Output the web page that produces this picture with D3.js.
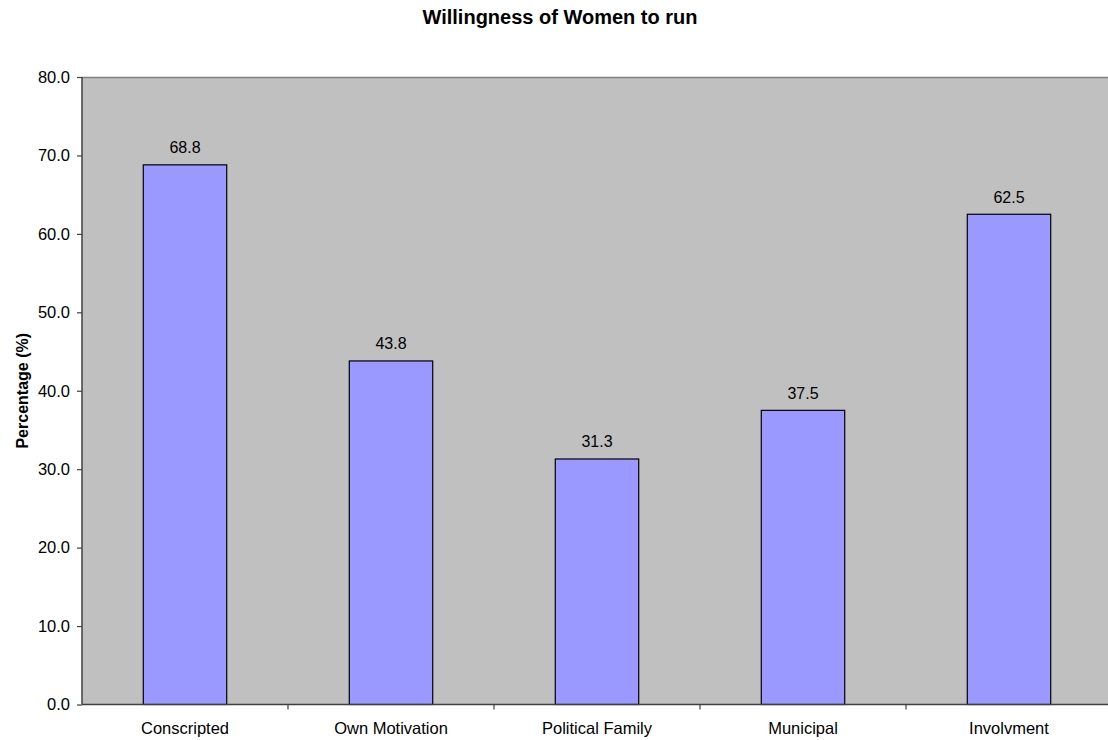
<!DOCTYPE html>
<html lang="en">
<head>
<meta charset="UTF-8">
<title>Willingness of Women to run</title>
<script src="https://d3js.org/d3.v7.min.js"></script>
<style>
  body { margin: 0; background: #fff; }
  svg { font-family: "Liberation Sans", Arial, sans-serif; display: block; }
</style>
</head>
<body>
<div id="chart"></div>
<script>
const categories = ["Conscripted", "Own Motivation", "Political Family", "Municipal", "Involvment"];
const values = [68.8, 43.8, 31.3, 37.5, 62.5];
const yTicks = [0, 10, 20, 30, 40, 50, 60, 70, 80];

const width = 1108, height = 740;
const margin = { left: 82, top: 77, right: -4, bottom: 35.5 };
const plotW = width - margin.left - margin.right;
const plotH = height - margin.top - margin.bottom;

const svg = d3.select("#chart").append("svg")
    .attr("width", width)
    .attr("height", height);

const x = d3.scaleBand().domain(categories).range([0, plotW]).paddingInner(0.595).paddingOuter(0.2975);
const xTicks = d3.scaleBand().domain(categories).range([0, plotW]);
const y = d3.scaleLinear().domain([0, 80]).range([plotH, 0]);

const g = svg.append("g").attr("transform", `translate(${margin.left},${margin.top})`);

// plot background
g.append("rect")
    .attr("width", plotW).attr("height", plotH)
    .attr("fill", "#c0c0c0");
g.append("line")
    .attr("x1", 0).attr("x2", plotW).attr("y1", 0.5).attr("y2", 0.5)
    .attr("stroke", "#808080").attr("stroke-width", 1.5);

// bars
g.selectAll("rect.bar")
    .data(values)
    .join("rect")
    .attr("class", "bar")
    .attr("x", (d, i) => x(categories[i]))
    .attr("width", x.bandwidth())
    .attr("y", d => y(d))
    .attr("height", d => y(0) - y(d))
    .attr("fill", "#9999ff")
    .attr("stroke", "#000")
    .attr("stroke-width", 1.2);

// value labels
g.selectAll("text.val")
    .data(values)
    .join("text")
    .attr("class", "val")
    .attr("x", (d, i) => x(categories[i]) + x.bandwidth() / 2)
    .attr("y", d => y(d) - 11.5)
    .attr("text-anchor", "middle")
    .attr("font-size", 16)
    .text(d => d.toFixed(1));

// y axis
const yAxis = g.append("g")
    .call(d3.axisLeft(y).tickValues(yTicks).tickSize(5).tickFormat(d3.format(".1f")));
yAxis.select(".domain").attr("stroke", "#404040").attr("stroke-width", 1.5).attr("d", `M0,0V${plotH}`);
yAxis.selectAll(".tick line").attr("stroke", "#404040").attr("stroke-width", 1.2);
yAxis.selectAll(".tick text").attr("font-size", 16.5).attr("fill", "#000").attr("x", -12)
    .attr("font-family", "\"Liberation Sans\", Arial, sans-serif");

// x axis
const xAxis = g.append("g").attr("transform", `translate(0,${plotH})`);
xAxis.append("line")
    .attr("x1", 0).attr("x2", plotW).attr("y1", 0).attr("y2", 0)
    .attr("stroke", "#404040").attr("stroke-width", 1.5);
xAxis.selectAll("line.tk")
    .data(categories)
    .join("line")
    .attr("class", "tk")
    .attr("x1", d => xTicks(d) + xTicks.bandwidth())
    .attr("x2", d => xTicks(d) + xTicks.bandwidth())
    .attr("y1", 0).attr("y2", 5)
    .attr("stroke", "#404040").attr("stroke-width", 1.2);
xAxis.selectAll("text")
    .data(categories)
    .join("text")
    .attr("x", d => xTicks(d) + xTicks.bandwidth() / 2)
    .attr("y", 29.5)
    .attr("text-anchor", "middle")
    .attr("font-size", 16.5)
    .text(d => d);

// title
svg.append("text")
    .attr("x", 560).attr("y", 24)
    .attr("text-anchor", "middle")
    .attr("font-size", 20)
    .attr("font-weight", "bold")
    .text("Willingness of Women to run");

// y label
svg.append("text")
    .attr("transform", `translate(28,${margin.top + plotH / 2}) rotate(-90)`)
    .attr("text-anchor", "middle")
    .attr("font-size", 16)
    .attr("font-weight", "bold")
    .text("Percentage (%)");
</script>
</body>
</html>
